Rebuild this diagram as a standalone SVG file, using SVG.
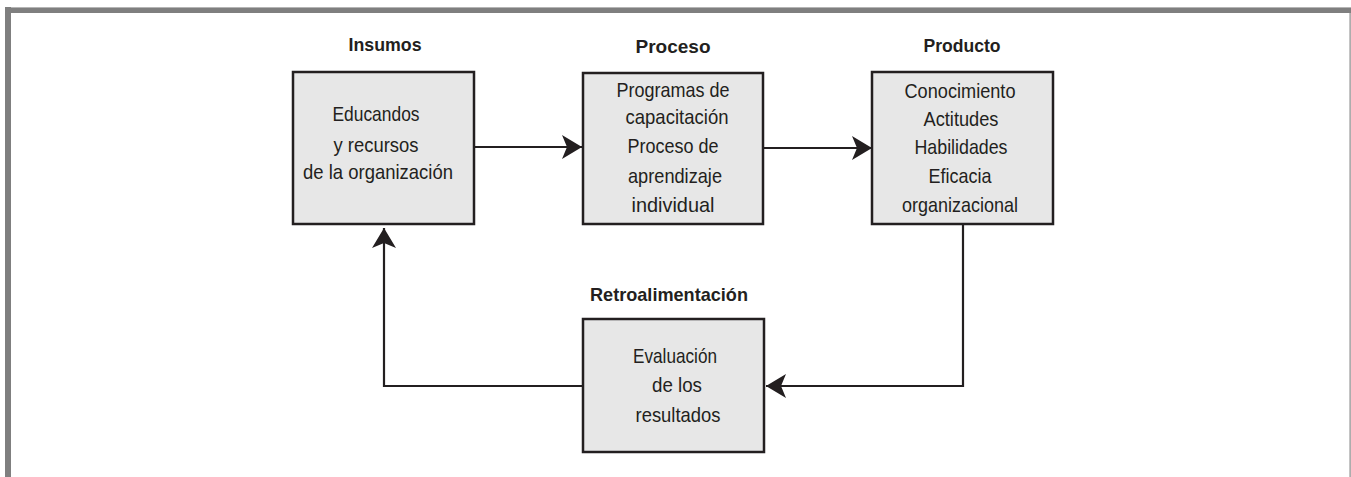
<svg xmlns="http://www.w3.org/2000/svg" width="1351" height="477" viewBox="0 0 1351 477">
  <style>
    .box { fill: #e7e7e7; stroke: #231f20; stroke-width: 2.5; }
    .body { font-family: "Liberation Sans", Arial, sans-serif; font-size: 21px; fill: #231f20; text-anchor: middle; }
    .title { font-family: "Liberation Sans", Arial, sans-serif; font-size: 19px; font-weight: bold; fill: #231f20; text-anchor: middle; }
    .link { fill: none; stroke: #231f20; stroke-width: 2.2; marker-end: url(#arrow); }
  </style>
  <defs>
    <marker id="arrow" markerUnits="userSpaceOnUse" markerWidth="20" markerHeight="24" viewBox="0 0 20 24" refX="20" refY="12" orient="auto">
      <path d="M0,0 L20,12 L0,24 L5,12 Z" fill="#231f20"/>
    </marker>
  </defs>

  <!-- page frame -->
  <g id="frame">
    <rect x="0" y="0" width="1351" height="477" fill="#ffffff"/>
    <rect x="5" y="7" width="1346" height="6" fill="#7f7f7f"/>
    <rect x="5" y="7" width="1346" height="1" fill="#b5b5b5"/>
    <rect x="5" y="7" width="6" height="470" fill="#7f7f7f"/>
    <rect x="1349.5" y="13" width="1.2" height="464" fill="#8a8a8a"/>
  </g>

  <!-- connectors -->
  <g id="connectors">
    <path class="link" d="M474,147 H582"/>
    <path class="link" d="M763,148 H872"/>
    <path class="link" d="M963,224 V386 H766"/>
    <path class="link" d="M583,386 H384 V228"/>
  </g>

  <g id="insumos">
    <text class="title" x="385" y="51" textLength="73" lengthAdjust="spacingAndGlyphs">Insumos</text>
    <rect class="box" x="293" y="72" width="181" height="152"/>
    <text class="body" x="376" y="121" textLength="87" lengthAdjust="spacingAndGlyphs">Educandos</text>
    <text class="body" x="376" y="152" textLength="85" lengthAdjust="spacingAndGlyphs">y recursos</text>
    <text class="body" x="378" y="179" textLength="150" lengthAdjust="spacingAndGlyphs">de la organización</text>
  </g>

  <g id="proceso">
    <text class="title" x="673" y="53" textLength="75" lengthAdjust="spacingAndGlyphs">Proceso</text>
    <rect class="box" x="583" y="73" width="180" height="151"/>
    <text class="body" x="673" y="97" textLength="113" lengthAdjust="spacingAndGlyphs">Programas de</text>
    <text class="body" x="677" y="124" textLength="103" lengthAdjust="spacingAndGlyphs">capacitación</text>
    <text class="body" x="673" y="153" textLength="91" lengthAdjust="spacingAndGlyphs">Proceso de</text>
    <text class="body" x="675" y="183" textLength="94" lengthAdjust="spacingAndGlyphs">aprendizaje</text>
    <text class="body" x="673" y="212" textLength="83" lengthAdjust="spacingAndGlyphs">individual</text>
  </g>

  <g id="producto">
    <text class="title" x="962" y="52" textLength="77" lengthAdjust="spacingAndGlyphs">Producto</text>
    <rect class="box" x="872" y="72" width="181" height="152"/>
    <text class="body" x="960" y="98" textLength="111" lengthAdjust="spacingAndGlyphs">Conocimiento</text>
    <text class="body" x="961" y="126" textLength="75" lengthAdjust="spacingAndGlyphs">Actitudes</text>
    <text class="body" x="961" y="154" textLength="93" lengthAdjust="spacingAndGlyphs">Habilidades</text>
    <text class="body" x="960" y="183" textLength="63" lengthAdjust="spacingAndGlyphs">Eficacia</text>
    <text class="body" x="960" y="212" textLength="116" lengthAdjust="spacingAndGlyphs">organizacional</text>
  </g>

  <g id="retroalimentacion">
    <text class="title" x="669" y="301" textLength="158" lengthAdjust="spacingAndGlyphs">Retroalimentación</text>
    <rect class="box" x="583" y="319" width="181" height="133"/>
    <text class="body" x="675" y="363" textLength="84" lengthAdjust="spacingAndGlyphs">Evaluación</text>
    <text class="body" x="677" y="392" textLength="50" lengthAdjust="spacingAndGlyphs">de los</text>
    <text class="body" x="678" y="422" textLength="85" lengthAdjust="spacingAndGlyphs">resultados</text>
  </g>
</svg>
